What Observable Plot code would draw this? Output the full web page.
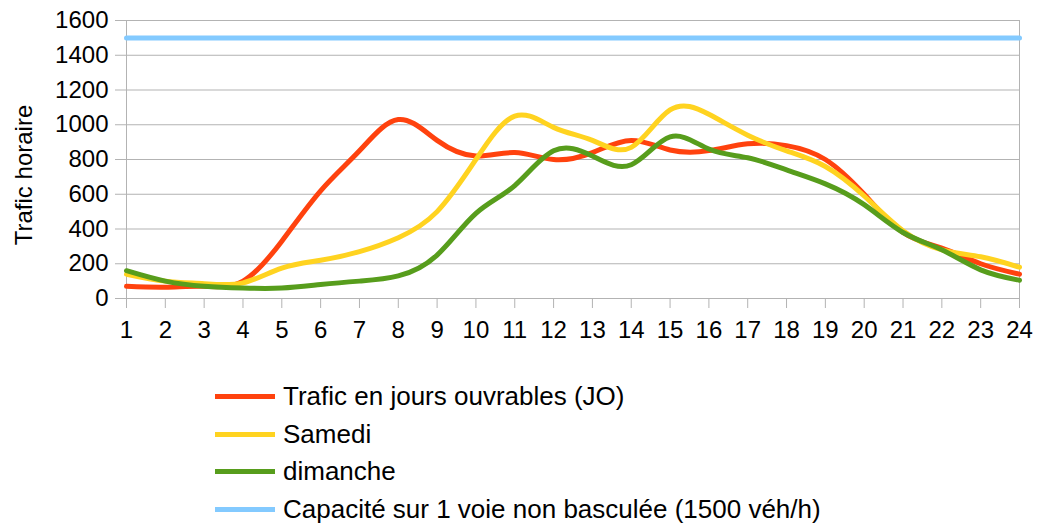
<!DOCTYPE html>
<html>
<head>
<meta charset="utf-8">
<script src="https://cdn.jsdelivr.net/npm/d3@7"></script>
<script src="https://cdn.jsdelivr.net/npm/@observablehq/plot@0.6"></script>
<style>
  body { margin: 0; background: #fff; font-family: "Liberation Sans", Arial, sans-serif; }
  #legend { font-size: 26px; color: #000; }
  .row { height: 37.5px; display: flex; align-items: center; }
  .sw { margin-left: 215px; width: 60px; height: 5px; }
  .lbl { margin-left: 8px; }
</style>
</head>
<body>
<div id="chart"></div>
<div id="legend"></div>
<script>
const hours = [1,2,3,4,5,6,7,8,9,10,11,12,13,14,15,16,17,18,19,20,21,22,23,24];
const jo       = [70,65,70,100,330,620,850,1030,910,820,840,800,840,910,855,851,890,880,800,600,380,290,200,140];
const samedi   = [140,100,85,90,175,220,270,350,500,800,1050,985,910,870,1085,1060,940,850,760,590,390,280,240,180];
const dimanche = [160,100,70,60,60,80,100,130,250,490,650,850,820,770,930,860,810,740,660,540,380,280,165,105];
const capacite = [1500,1500,1500,1500,1500,1500,1500,1500,1500,1500,1500,1500,1500,1500,1500,1500,1500,1500,1500,1500,1500,1500,1500,1500];
const yTicks = [0,200,400,600,800,1000,1200,1400,1600];
const seriesNames = ["Trafic en jours ouvrables (JO)", "Samedi", "dimanche", "Capacité sur 1 voie non basculée (1500 véh/h)"];
const seriesColors = ["#ff420e", "#ffd320", "#579d1c", "#83caff"];
const seriesValues = [jo, samedi, dimanche, capacite];

const rows = [];
seriesValues.forEach((vals, i) => {
  vals.forEach((v, j) => rows.push({hour: hours[j], value: v, series: seriesNames[i]}));
});

const chart = Plot.plot({
  width: 1038,
  height: 378,
  marginLeft: 126,
  marginRight: 19,
  marginTop: 20,
  marginBottom: 80,
  style: {fontFamily: "Liberation Sans, Arial, sans-serif", fontSize: "24px", color: "#000", background: "#fff"},
  x: {domain: [1, 24]},
  y: {domain: [0, 1600]},
  color: {domain: seriesNames, range: seriesColors},
  marks: [
    Plot.ruleY(yTicks, {stroke: "#b3b3b3", strokeWidth: 1}),
    Plot.ruleX([1, 24], {stroke: "#b3b3b3", strokeWidth: 1}),
    Plot.axisX({ticks: hours, tickSize: 10, tickPadding: 12, stroke: "#b3b3b3", strokeOpacity: 1, label: null, fontSize: 24, tickFormat: d => String(d)}),
    Plot.axisY({ticks: yTicks, tickSize: 11, tickPadding: 7, stroke: "#b3b3b3", strokeOpacity: 1, label: null, fontSize: 24, tickFormat: d => String(d)}),
    ...seriesNames.map((name, i) => Plot.line(rows.filter(r => r.series === name), {
      x: "hour", y: "value", stroke: seriesColors[i], strokeWidth: 5, curve: "natural"
    }))
  ]
});

d3.select(chart).append("text")
  .attr("transform", "translate(23,175) rotate(-90)")
  .attr("text-anchor", "middle")
  .attr("dominant-baseline", "central")
  .attr("font-size", 24)
  .attr("fill", "#000")
  .text("Trafic horaire");

document.getElementById("chart").appendChild(chart);

const legend = d3.select("#legend");
seriesNames.forEach((name, i) => {
  const r = legend.append("div").attr("class", "row");
  r.append("div").attr("class", "sw").style("background", seriesColors[i]);
  r.append("div").attr("class", "lbl").text(name);
});
</script>
</body>
</html>
